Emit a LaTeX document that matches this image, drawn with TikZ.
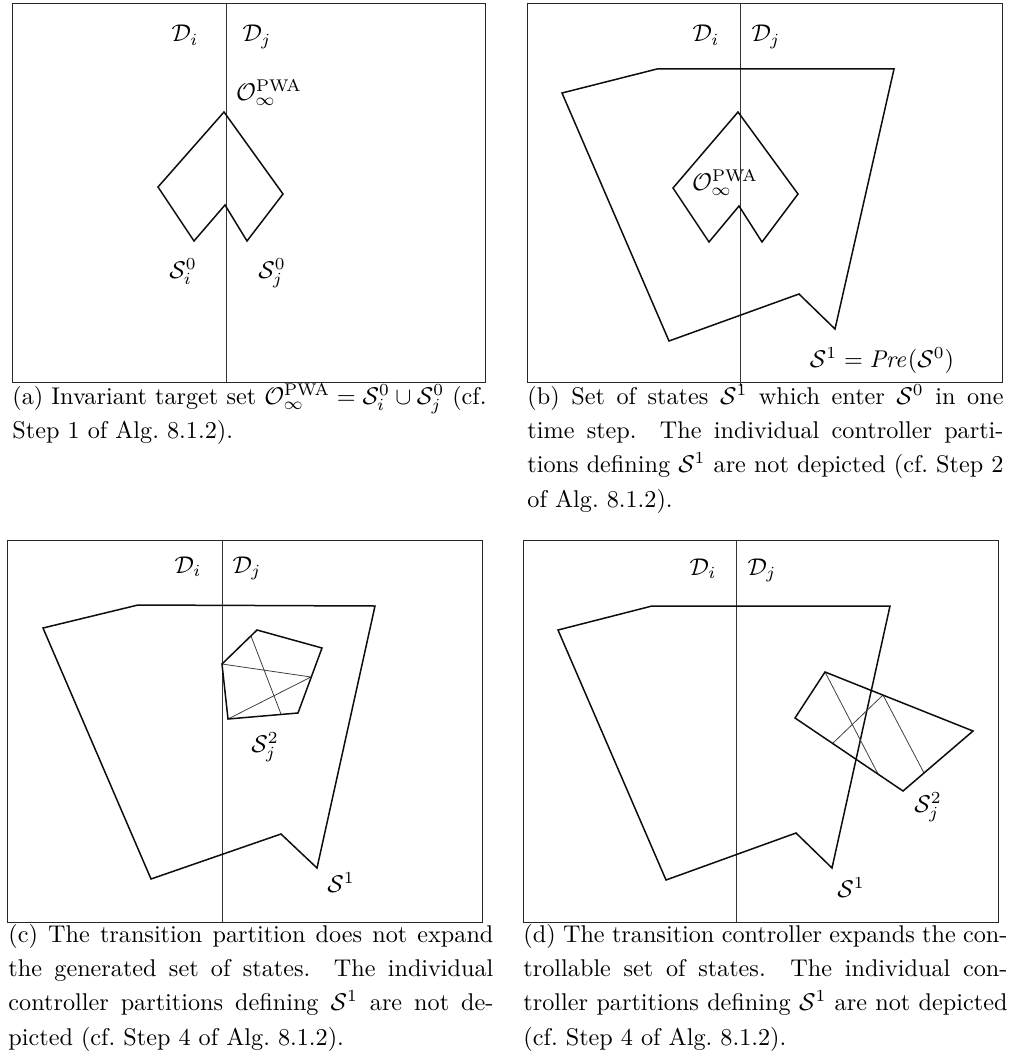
\documentclass[tikz,border=0pt]{standalone}
\usepackage{amsmath}
\begin{document}
\begin{tikzpicture}[x=1pt,y=-1pt,
  panelframe/.style={draw=black!85,line width=0.9pt},
  divider/.style={draw=black!80,line width=0.8pt},
  setpoly/.style={draw=black!95,line width=1.5pt,line join=miter},
  partline/.style={draw=black!75,line width=0.8pt},
  lbl/.style={inner sep=0pt,anchor=base,scale=2.42,font=\fontsize{10}{12}\selectfont},
  captext/.style={inner sep=0pt,anchor=base west,align=justify,scale=2.42,font=\fontsize{10}{14.2}\selectfont}]
\useasboundingbox (0,0) rectangle (1011,1057);

% ---------------- panel (a)
\draw[panelframe] (12,3) rectangle (485,382);
\coordinate (aT) at (226,3); \coordinate (aB) at (226,382);
\draw[divider] (aT) -- (aB);
\draw[setpoly] (224,112) -- (283,194) -- (247,241) -- (225,205) -- (194,241) -- (158,187) -- cycle;
\node[lbl] (aDi) at (185,42) {$\mathcal{D}_i$};
\node[lbl] (aDj) at (257,42) {$\mathcal{D}_j$};
\node[lbl] (aO) at (269,100) {$\mathcal{O}_\infty^{\mathrm{PWA}}$};
\node[lbl] (aSi) at (183,278) {$\mathcal{S}_i^0$};
\node[lbl] (aSj) at (272,278) {$\mathcal{S}_j^0$};
\node[captext,text width=195.9pt] (acap) at (12,404) {(a) Invariant target set $\mathcal{O}_\infty^{\mathrm{PWA}}=\mathcal{S}_i^0\cup\mathcal{S}_j^0$ (cf.\linebreak Step~1 of Alg.~8.1.2).};

% ---------------- panel (b)
\draw[panelframe] (527,3) rectangle (1002,382);
\coordinate (bT) at (740,3); \coordinate (bB) at (740,386);
\draw[divider] (bT) -- (bB);
\draw[setpoly] (562,93) -- (657,69) -- (894,69) -- (835,329) -- (799,294) -- (669,341) -- cycle;
\draw[setpoly] (738,112) -- (798,194) -- (762,242) -- (739,206) -- (709,242) -- (673,188) -- cycle;
\node[lbl] (bDi) at (706,42) {$\mathcal{D}_i$};
\node[lbl] (bDj) at (766,42) {$\mathcal{D}_j$};
\node[lbl] (bO) at (725,190) {$\mathcal{O}_\infty^{\mathrm{PWA}}$};
\node[lbl] (bS) at (882,367) {$\mathcal{S}^1=\mathit{Pre}(\mathcal{S}^0)$};
\node[captext,text width=196.7pt] (bcap) at (527,404) {(b) Set of states $\mathcal{S}^1$ which enter $\mathcal{S}^0$ in one\linebreak time step.  The individual controller parti-\linebreak tions defining $\mathcal{S}^1$ are not depicted (cf.\ Step~2\linebreak of Alg.~8.1.2).};

% ---------------- panel (c)
\draw[panelframe] (7,540) rectangle (482,922);
\coordinate (cT) at (222,540); \coordinate (cB) at (222,922);
\draw[divider] (cT) -- (cB);
\draw[setpoly] (43,628) -- (138,605) -- (375,606) -- (317,868) -- (281,834) -- (151,879) -- cycle;
\coordinate (c1) at (222,664); \coordinate (c2) at (257,630); \coordinate (c3) at (322,648);
\coordinate (c4) at (298,713); \coordinate (c5) at (228,719);
\coordinate (cR) at (311,677); \coordinate (cU) at (251,636); \coordinate (cD) at (281,714);
\draw[partline] (c1) -- (cR) -- (c5);
\draw[partline] (cU) -- (cD);
\draw[setpoly] (c1) -- (c2) -- (c3) -- (c4) -- (c5) -- cycle;
\node[lbl] (cDi) at (188,573) {$\mathcal{D}_i$};
\node[lbl] (cDj) at (247,573) {$\mathcal{D}_j$};
\node[lbl] (cSj) at (265,752) {$\mathcal{S}_j^2$};
\node[lbl] (cS) at (341,892) {$\mathcal{S}^1$};
\node[captext,text width=200.4pt] (ccap) at (8,942) {(c) The transition partition does not expand\linebreak the generated set of states.  The individual\linebreak controller partitions defining $\mathcal{S}^1$ are not de-\linebreak picted (cf.\ Step~4 of Alg.~8.1.2).};

% ---------------- panel (d)
\draw[panelframe] (523,540) rectangle (998,922);
\coordinate (dT) at (736,540); \coordinate (dB) at (736,922);
\draw[divider] (dT) -- (dB);
\draw[setpoly] (558,630) -- (652,606) -- (890,606) -- (832,868) -- (796,833) -- (666,880) -- cycle;
\coordinate (d1) at (825,672); \coordinate (d2) at (973,731);
\coordinate (d3) at (903,791); \coordinate (d4) at (795,718);
\coordinate (dA) at (878,774); \coordinate (dB2) at (883,695);
\coordinate (dC) at (924,773); \coordinate (dE) at (833,743);
\draw[partline] (d1) -- (dA);
\draw[partline] (dB2) -- (dC);
\draw[partline] (dE) -- (dB2);
\draw[setpoly] (d1) -- (d2) -- (d3) -- (d4) -- cycle;
\node[lbl] (dDi) at (703,575) {$\mathcal{D}_i$};
\node[lbl] (dDj) at (762,575) {$\mathcal{D}_j$};
\node[lbl] (dSj) at (928,812) {$\mathcal{S}_j^2$};
\node[lbl] (dS) at (851,897) {$\mathcal{S}^1$};
\node[captext,text width=200pt] (dcap) at (523,942) {(d) The transition controller expands the con-\linebreak trollable set of states.  The individual con-\linebreak troller partitions defining $\mathcal{S}^1$ are not depicted\linebreak (cf.\ Step~4 of Alg.~8.1.2).};
\end{tikzpicture}
\end{document}
